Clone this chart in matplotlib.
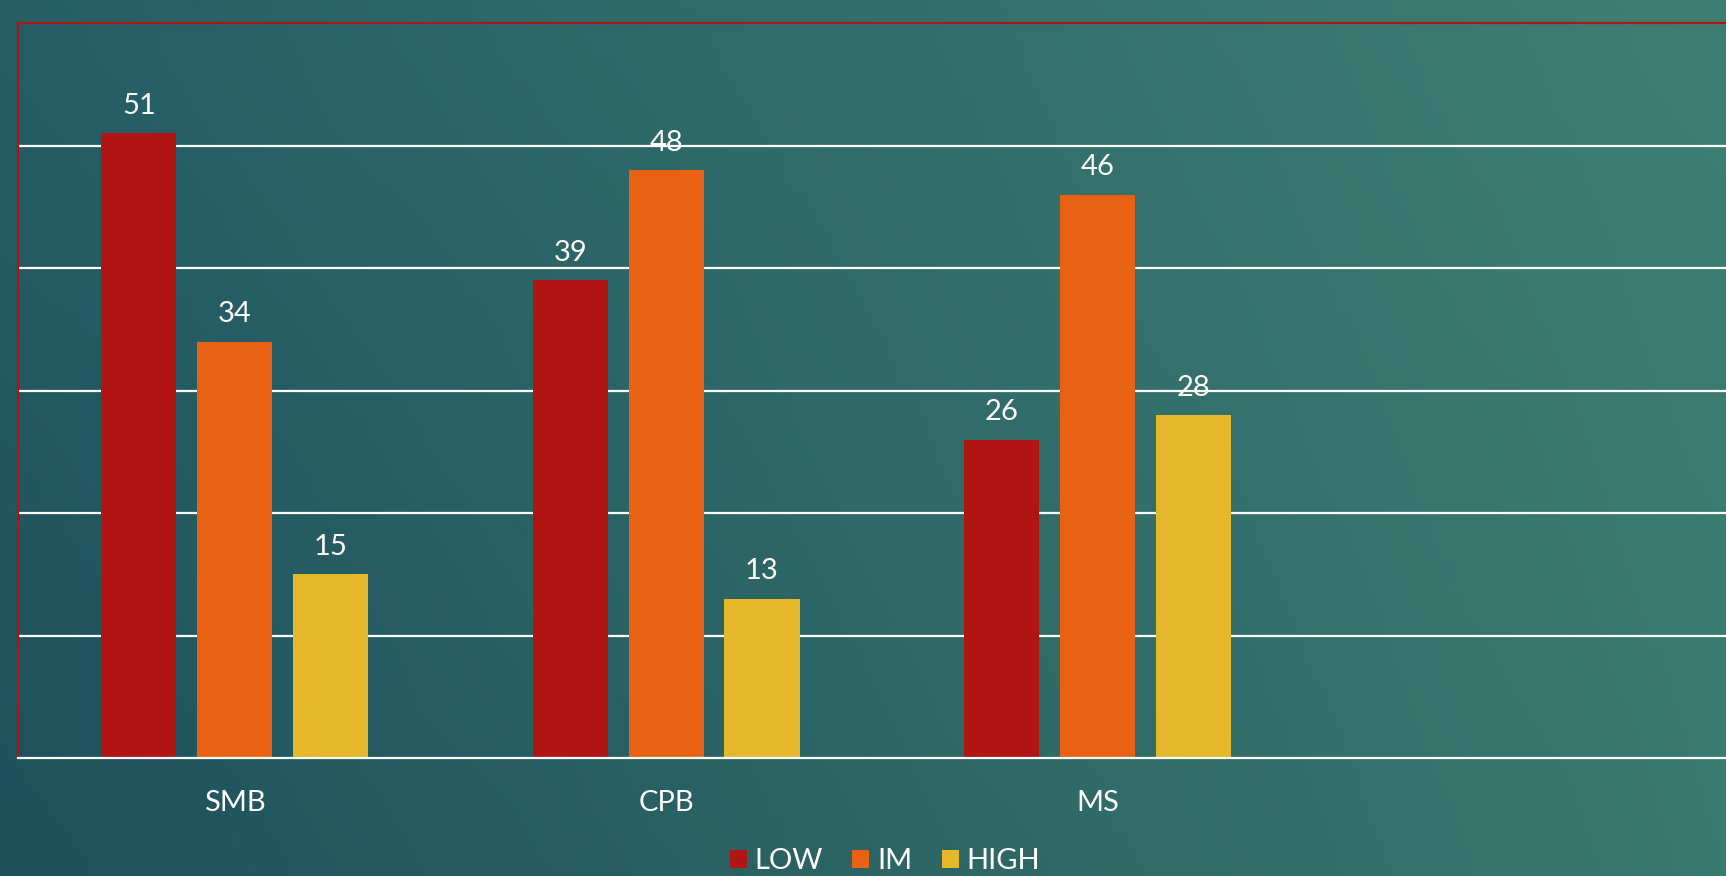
import numpy as np
import matplotlib
matplotlib.use('Agg')
import matplotlib.pyplot as plt

# data
categories = ['SMB', 'CPB', 'MS']
series = ['LOW', 'IM', 'HIGH']
low_vals = [51, 39, 26]
im_vals = [34, 48, 46]
high_vals = [15, 13, 28]
colors = ['#B01514', '#E96213', '#E5B72A']

plt.rcParams['font.family'] = ['Lato', 'DejaVu Sans']

W, H = 1726, 876
fig = plt.figure(figsize=(W/100, H/100), dpi=100)

# background gradient (teal, darker on the left)
bg = fig.add_axes([0, 0, 1, 1], zorder=-10)
tl = np.array([37, 94, 102]) / 255.
bl = np.array([30, 80, 92]) / 255.
tr = np.array([63, 127, 115]) / 255.
br = np.array([58, 121, 110]) / 255.
u = np.linspace(0, 1, 200)[None, :, None]
v = np.linspace(0, 1, 100)[:, None, None]
img = (1-u)*(1-v)*tl + u*(1-v)*tr + (1-u)*v*bl + u*v*br
bg.imshow(img, aspect='auto', extent=[0, 1, 0, 1])
bg.axis('off')

# main axes: left edge at 18px, top at 23px, bottom at 758px, right cut by image edge
ax = fig.add_axes([18/W, (H-758)/H, 1-18/W, (758-23)/H])
ax.patch.set_alpha(0)

x = np.arange(len(categories))
width = 0.174
step = 0.222
all_vals = [low_vals, im_vals, high_vals]
for i, vals in enumerate(all_vals):
    pos = x + (i-1)*step
    bars = ax.bar(pos, vals, width, color=colors[i], label=series[i], zorder=3)
    for b, val in zip(bars, vals):
        ax.annotate(str(val), (b.get_x()+b.get_width()/2, val), xytext=(0, 14),
                    textcoords='offset points', ha='center', va='baseline',
                    color='white', fontsize=21, zorder=5)

ax.set_xlim(-0.502, 3.456)
ax.set_ylim(0, 60)
ax.set_yticks([10, 20, 30, 40, 50])
ax.yaxis.grid(True, color='white', linewidth=1.6, zorder=1)
ax.set_axisbelow(True)
ax.tick_params(axis='y', left=False, labelleft=False)
ax.set_xticks(x)
ax.set_xticklabels(categories, color='white', fontsize=21)
ax.tick_params(axis='x', length=0, pad=23)

for s in ['top', 'left']:
    ax.spines[s].set_color('#B01514')
    ax.spines[s].set_linewidth(1.6)
ax.spines['right'].set_visible(False)
ax.spines['bottom'].set_color('white')
ax.spines['bottom'].set_linewidth(1.6)
ax.spines['bottom'].set_zorder(4)

leg = ax.legend(loc='center', bbox_to_anchor=(885/W, 15/H), bbox_transform=fig.transFigure,
                ncol=3, frameon=False, fontsize=21, handlelength=0.58, handleheight=0.58,
                handletextpad=0.28, columnspacing=1.0, borderpad=0)
for t in leg.get_texts():
    t.set_color('white')

fig.savefig('out.png', dpi=100)
